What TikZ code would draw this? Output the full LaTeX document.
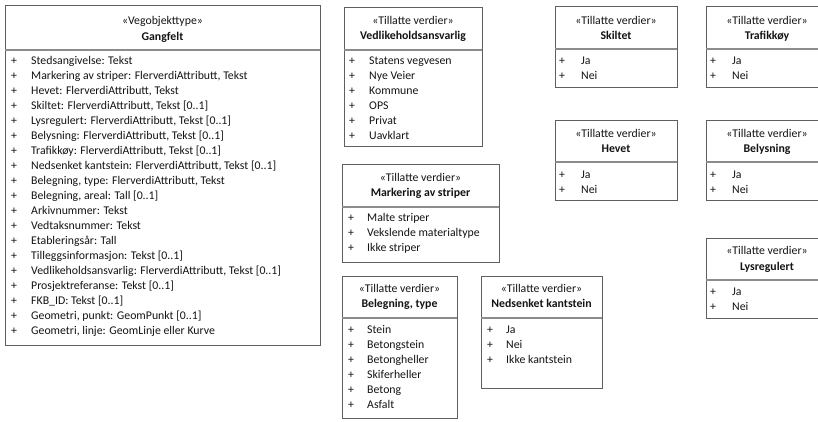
\documentclass[tikz,border=0pt]{standalone}
\usepackage{fontspec}
\setmainfont{Carlito}
\definecolor{boxc}{RGB}{95,95,95}
\definecolor{sepc}{RGB}{140,140,140}
\definecolor{txt}{RGB}{20,20,20}
\tikzset{
  umlbox/.style={draw=boxc, line width=0.9pt},
  sepline/.style={draw=sepc, line width=1.3pt},
  stereo/.style={font=\fontsize{11.8}{13}\selectfont, text=txt, inner sep=0pt, anchor=mid, yshift=-1.3pt},
  ttl/.style={font=\fontsize{11.8}{13}\selectfont\bfseries, text=txt, inner sep=0pt, anchor=mid, yshift=-1.3pt},
  item/.style={font=\fontsize{11.8}{13}\selectfont, text=txt, inner sep=0pt, anchor=mid west, yshift=-1.5pt},
  plus/.style={font=\fontsize{11.8}{13}\selectfont, text=txt, inner sep=0pt, anchor=mid, yshift=-1.5pt},
}
\begin{document}
\begin{tikzpicture}[x=1pt,y=-1pt]
\useasboundingbox (0,0) rectangle (818,421);
\clip (0,0) rectangle (818,421);
\fill[white] (0,0) rectangle (818,421);

% Gangfelt
\draw[umlbox] (5,5) rectangle (320,345);
\draw[sepline] (5,50) -- (320,50);
\node[stereo] (gs) at (162.5,21) {«Vegobjekttype»};
\node[ttl] (gt) at (162.5,37) {Gangfelt};
\foreach \t [count=\i from 0] in {{Stedsangivelse: Tekst},{Markering av striper: FlerverdiAttributt, Tekst},{Hevet: FlerverdiAttributt, Tekst},{Skiltet: FlerverdiAttributt, Tekst [0..1]},{Lysregulert: FlerverdiAttributt, Tekst [0..1]},{Belysning: FlerverdiAttributt, Tekst [0..1]},{Trafikkøy: FlerverdiAttributt, Tekst [0..1]},{Nedsenket kantstein: FlerverdiAttributt, Tekst [0..1]},{Belegning, type: FlerverdiAttributt, Tekst},{Belegning, areal: Tall [0..1]},{Arkivnummer: Tekst},{Vedtaksnummer: Tekst},{Etableringsår: Tall},{Tilleggsinformasjon: Tekst [0..1]},{Vedlikeholdsansvarlig: FlerverdiAttributt, Tekst [0..1]},{Prosjektreferanse: Tekst [0..1]},{FKB\_ID: Tekst [0..1]},{Geometri, punkt: GeomPunkt [0..1]},{Geometri, linje: GeomLinje eller Kurve}}{
  \node[plus] (gp\i) at (14,61+15*\i) {+};
  \node[item] (gi\i) at (31,61+15*\i) {\t};
}

% Vedlikeholdsansvarlig
\draw[umlbox] (344,7) rectangle (482,146);
\draw[sepline] (344,50) -- (482,50);
\node[stereo] (vs) at (413,21) {«Tillatte verdier»};
\node[ttl] (vt) at (413,36) {Vedlikeholdsansvarlig};
\foreach \t [count=\i from 0] in {Statens vegvesen,Nye Veier,Kommune,OPS,Privat,Uavklart}{
  \node[plus] (vp\i) at (352,61+15*\i) {+};
  \node[item] (vi\i) at (369,61+15*\i) {\t};
}

% Markering av striper
\draw[umlbox] (342,164) rectangle (499,262);
\draw[sepline] (342,207) -- (499,207);
\node[stereo] (ms) at (420.5,178) {«Tillatte verdier»};
\node[ttl] (mt) at (420.5,193) {Markering av striper};
\foreach \t [count=\i from 0] in {Malte striper,Vekslende materialtype,Ikke striper}{
  \node[plus] (mp\i) at (351,218+15*\i) {+};
  \node[item] (mi\i) at (367,218+15*\i) {\t};
}

% Belegning, type
\draw[umlbox] (342,276) rectangle (457,418);
\draw[sepline] (342,318) -- (457,318);
\node[stereo] (bs) at (399.5,289) {«Tillatte verdier»};
\node[ttl] (bt) at (399.5,304) {Belegning, type};
\foreach \t [count=\i from 0] in {Stein,Betongstein,Betongheller,Skiferheller,Betong,Asfalt}{
  \node[plus] (bp\i) at (351,330+15*\i) {+};
  \node[item] (bi\i) at (367,330+15*\i) {\t};
}

% Nedsenket kantstein
\draw[umlbox] (481,276) rectangle (602,388);
\draw[sepline] (481,318) -- (602,318);
\node[stereo] (ns) at (541.5,289) {«Tillatte verdier»};
\node[ttl] (nt) at (541.5,304) {Nedsenket kantstein};
\foreach \t [count=\i from 0] in {Ja,Nei,Ikke kantstein}{
  \node[plus] (np\i) at (490,330+15*\i) {+};
  \node[item] (ni\i) at (506,330+15*\i) {\t};
}

% Skiltet
\draw[umlbox] (555,6) rectangle (677,87);
\draw[sepline] (555,49) -- (677,49);
\node[stereo] (ss) at (616,21) {«Tillatte verdier»};
\node[ttl] (stt) at (616,36) {Skiltet};
\foreach \t [count=\i from 0] in {Ja,Nei}{
  \node[plus] (sp\i) at (562,61+15*\i) {+};
  \node[item] (si\i) at (581,61+15*\i) {\t};
}

% Hevet
\draw[umlbox] (555,120) rectangle (677,200);
\draw[sepline] (555,162) -- (677,162);
\node[stereo] (hs) at (616,134) {«Tillatte verdier»};
\node[ttl] (ht) at (616,149) {Hevet};
\foreach \t [count=\i from 0] in {Ja,Nei}{
  \node[plus] (hp\i) at (562,175+15*\i) {+};
  \node[item] (hi\i) at (581,175+15*\i) {\t};
}

% Trafikkoy
\draw[umlbox] (706,6) rectangle (828,87);
\draw[sepline] (706,49) -- (828,49);
\node[stereo] (ts) at (767,21) {«Tillatte verdier»};
\node[ttl] (tt) at (767,36) {Trafikkøy};
\foreach \t [count=\i from 0] in {Ja,Nei}{
  \node[plus] (tp\i) at (713,61+15*\i) {+};
  \node[item] (ti\i) at (732,61+15*\i) {\t};
}

% Belysning
\draw[umlbox] (706,120) rectangle (828,200);
\draw[sepline] (706,162) -- (828,162);
\node[stereo] (ys) at (767,134) {«Tillatte verdier»};
\node[ttl] (yt) at (767,149) {Belysning};
\foreach \t [count=\i from 0] in {Ja,Nei}{
  \node[plus] (yp\i) at (713,175+15*\i) {+};
  \node[item] (yi\i) at (732,175+15*\i) {\t};
}

% Lysregulert
\draw[umlbox] (706,238) rectangle (828,318);
\draw[sepline] (706,280) -- (828,280);
\node[stereo] (ls) at (767,251) {«Tillatte verdier»};
\node[ttl] (lt) at (767,267) {Lysregulert};
\foreach \t [count=\i from 0] in {Ja,Nei}{
  \node[plus] (lp\i) at (713,292+15*\i) {+};
  \node[item] (li\i) at (732,292+15*\i) {\t};
}
\end{tikzpicture}
\end{document}
